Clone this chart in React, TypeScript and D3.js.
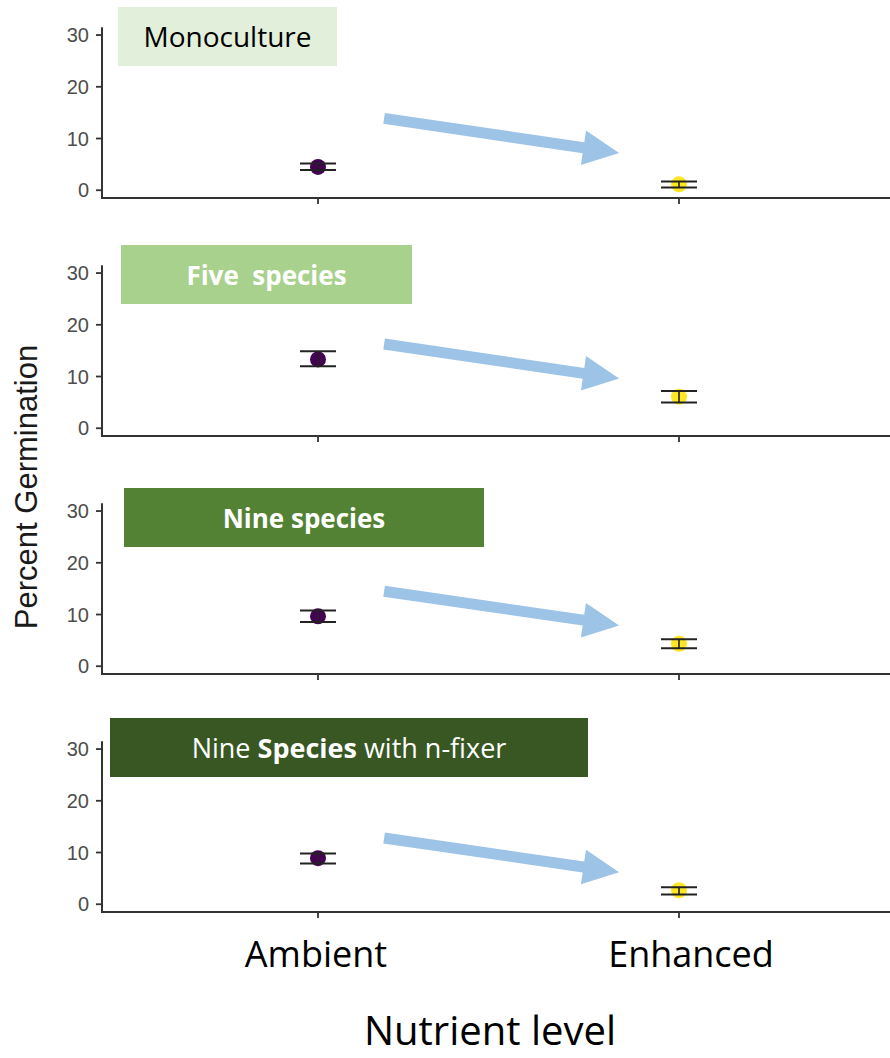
import React from "react";
import * as d3 from "d3";

const panelNames = ["Monoculture", "Five  species", "Nine species", "Nine Species with n-fixer"];
const categories = ["Ambient", "Enhanced"];
const meanValues = [
  [4.5, 1.15],
  [13.3, 6.1],
  [9.65, 4.35],
  [8.9, 2.7],
];
const lowerValues = [
  [3.9, 0.55],
  [12.0, 5.0],
  [8.55, 3.5],
  [7.9, 1.9],
];
const upperValues = [
  [5.15, 1.7],
  [14.9, 7.2],
  [10.8, 5.2],
  [9.8, 3.3],
];
const yTicks = [0, 10, 20, 30];
// arrow annotations in data coordinates: [category position, value]
const arrowStart = [
  [1.183, 13.9],
  [1.183, 16.3],
  [1.183, 14.5],
  [1.183, 12.8],
];
const arrowEnd = [
  [1.834, 7.2],
  [1.834, 9.6],
  [1.834, 7.9],
  [1.834, 6.2],
];

const pointColors = ["#440154", "#FDE725"];
const boxStyles = [
  { x: 118, y: 7, w: 219, h: 59, fill: "#E2EFDA", color: "#000000", weight: 400, size: 28 },
  { x: 121, y: 7, w: 291, h: 59, fill: "#A9D18E", color: "#FFFFFF", weight: 700, size: 26 },
  { x: 124, y: 12, w: 360, h: 59, fill: "#548235", color: "#FFFFFF", weight: 700, size: 26 },
  { x: 110, y: 4, w: 478, h: 59, fill: "#385723", color: "#FFFFFF", weight: 400, size: 27 },
];

const PANEL_STEP = 238;
const AXIS_LEFT = 102;

function arrowPath(x0: number, y0: number, x1: number, y1: number) {
  const shaft = 11;
  const headW = 35;
  const headL = 36;
  const dx = x1 - x0;
  const dy = y1 - y0;
  const len = Math.hypot(dx, dy);
  const ux = dx / len;
  const uy = dy / len;
  const px = -uy;
  const py = ux;
  const bx = x1 - ux * headL;
  const by = y1 - uy * headL;
  const pts = [
    [x0 + px * shaft / 2, y0 + py * shaft / 2],
    [bx + px * shaft / 2, by + py * shaft / 2],
    [bx + px * headW / 2, by + py * headW / 2],
    [x1, y1],
    [bx - px * headW / 2, by - py * headW / 2],
    [bx - px * shaft / 2, by - py * shaft / 2],
    [x0 - px * shaft / 2, y0 - py * shaft / 2],
  ];
  return "M" + pts.map((p) => p[0].toFixed(1) + "," + p[1].toFixed(1)).join("L") + "Z";
}

export default function App() {
  const x = d3.scaleLinear().domain([0.4, 2.6]).range([101.4, 895.6]);
  const catPos = (i: number) => x(i + 1);

  return (
    <svg
      width={890}
      height={1058}
      style={{ position: "absolute", left: 0, top: 0, background: "#fff" }}
      xmlns="http://www.w3.org/2000/svg"
    >
      {panelNames.map((name, pi) => {
        const off = PANEL_STEP * pi;
        const y = d3.scaleLinear().domain([-1.5, 31.5]).range([198 + off, 27.3 + off]);
        const box = boxStyles[pi];
        const a0 = arrowStart[pi];
        const a1 = arrowEnd[pi];
        return (
          <g key={pi}>
            {yTicks.map((t) => (
              <g key={t}>
                <line x1={AXIS_LEFT - 6} x2={AXIS_LEFT} y1={y(t)} y2={y(t)} stroke="#333" strokeWidth={1.8} />
                <text
                  x={AXIS_LEFT - 13}
                  y={y(t)}
                  dy="0.36em"
                  textAnchor="end"
                  fontFamily="'Liberation Sans', Arial, sans-serif"
                  fontSize={20}
                  fill="#4D4D4D"
                >
                  {t}
                </text>
              </g>
            ))}
            {categories.map((c, ci) => (
              <line key={c} x1={catPos(ci)} x2={catPos(ci)} y1={y(-1.5)} y2={y(-1.5) + 6} stroke="#333" strokeWidth={1.8} />
            ))}
            <line x1={AXIS_LEFT} x2={AXIS_LEFT} y1={y(31.5)} y2={y(-1.5) + 1} stroke="#333" strokeWidth={2} />
            <line x1={AXIS_LEFT - 1} x2={890} y1={y(-1.5)} y2={y(-1.5)} stroke="#333" strokeWidth={2} />
            {categories.map((c, ci) => (
              <circle key={c} cx={catPos(ci)} cy={y(meanValues[pi][ci])} r={8} fill={pointColors[ci]} />
            ))}
            {categories.map((c, ci) => {
              const cx = catPos(ci);
              const lo = y(lowerValues[pi][ci]);
              const hi = y(upperValues[pi][ci]);
              return (
                <g key={c} stroke="#222" strokeWidth={2}>
                  <line x1={cx - 18} x2={cx + 18} y1={hi} y2={hi} />
                  <line x1={cx - 18} x2={cx + 18} y1={lo} y2={lo} />
                  <line x1={cx} x2={cx} y1={hi} y2={lo} strokeWidth={1.6} />
                </g>
              );
            })}
            <path d={arrowPath(x(a0[0]), y(a0[1]), x(a1[0]), y(a1[1]))} fill="#9DC3E6" />
            <rect x={box.x} y={box.y + off} width={box.w} height={box.h} fill={box.fill} />
            <text
              x={box.x + box.w / 2}
              y={box.y + off + 40}
              textAnchor="middle"
              fontFamily="'Open Sans', sans-serif"
              fontSize={box.size}
              fontWeight={box.weight}
              fill={box.color}
              style={{ whiteSpace: "pre" }}
            >
              {pi === 3 ? (
                <>
                  <tspan>Nine </tspan>
                  <tspan fontWeight={700}>Species</tspan>
                  <tspan> with n-fixer</tspan>
                </>
              ) : (
                name
              )}
            </text>
          </g>
        );
      })}
      {categories.map((c, ci) => (
        <text
          key={c}
          x={catPos(ci) + (ci === 0 ? -2 : 12)}
          y={967}
          textAnchor="middle"
          fontFamily="'Open Sans', sans-serif"
          fontSize={36}
          fill="#000"
        >
          {c}
        </text>
      ))}
      <text x={490} y={1045} textAnchor="middle" fontFamily="'Open Sans', sans-serif" fontSize={40} fill="#000">
        Nutrient level
      </text>
      <text
        transform="translate(37,487) rotate(-90)"
        textAnchor="middle"
        fontFamily="'Liberation Sans', Arial, sans-serif"
        fontSize={31}
        fill="#1a1a1a"
      >
        Percent Germination
      </text>
    </svg>
  );
}
